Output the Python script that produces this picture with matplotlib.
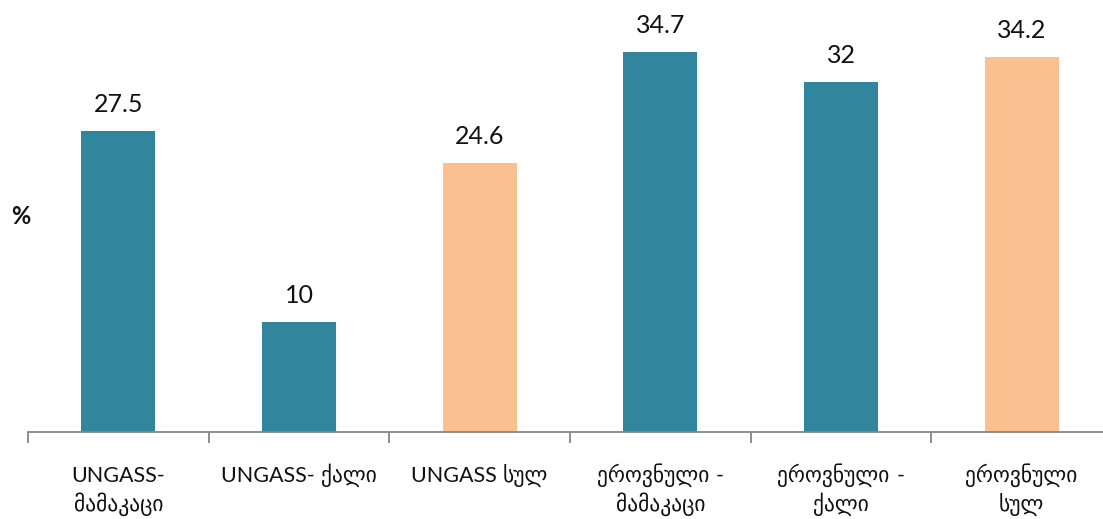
import matplotlib
matplotlib.use("Agg")
import matplotlib.pyplot as plt

categories = ["UNGASS-\nმამაკაცი", "UNGASS- ქალი", "UNGASS სულ",
              "ეროვნული -\nმამაკაცი", "ეროვნული -\nქალი", "ეროვნული\nსულ"]
values = [27.5, 10, 24.6, 34.7, 32, 34.2]
value_labels = ["27.5", "10", "24.6", "34.7", "32", "34.2"]
colors = ["#31859C", "#31859C", "#FAC090", "#31859C", "#31859C", "#FAC090"]

plt.rcParams["font.family"] = ["Lato", "DejaVu Sans"]

fig = plt.figure(figsize=(11.03, 5.19), dpi=100)
ax = fig.add_axes([28 / 1103, 87 / 519, 1084 / 1103, 432 / 519])

x = range(len(values))
bars = ax.bar(x, values, width=0.41, color=colors)
for b, lab in zip(bars, value_labels):
    ax.annotate(lab, (b.get_x() + b.get_width() / 2, b.get_height()),
                xytext=(0, 19), textcoords="offset pixels",
                ha="center", va="baseline", fontsize=18, color="#111111")

ax.set_xlim(-0.5, 5.5)
ax.set_ylim(0, 39.45)
ax.set_xticks([i - 0.5 for i in range(len(values) + 1)])
ax.set_xticklabels([])
ax.tick_params(axis="x", length=8, color="#868686", width=1.3)
ax.set_yticks([])
for s in ["top", "right", "left"]:
    ax.spines[s].set_visible(False)
ax.spines["bottom"].set_color("#868686")
ax.spines["bottom"].set_linewidth(1.3)


def split_runs(line):
    # split a line into Georgian / non-Georgian pieces
    runs = []
    for ch in line:
        geo = 0x10A0 <= ord(ch) <= 0x10FF
        if ch == " " and runs:
            geo = runs[-1][1]
        if runs and runs[-1][1] == geo:
            runs[-1][0] += ch
        else:
            runs.append([ch, geo])
    return runs


# category labels: Georgian pieces in DejaVu, Latin in Lato, lines centred
renderer = fig.canvas.get_renderer()
baselines = [-50, -79]
for i, label in enumerate(categories):
    for k, line in enumerate(label.split("\n")):
        pieces = []
        for seg, geo in split_runs(line):
            t = ax.annotate(seg, (i, 0), xycoords=ax.get_xaxis_transform(),
                            xytext=(0, baselines[k]), textcoords="offset pixels",
                            ha="left", va="baseline", color="#111111",
                            fontsize=15.5 if geo else 15.5,
                            family="DejaVu Sans" if geo else "Lato")
            w = t.get_window_extent(renderer).width
            pieces.append((t, w))
        total = sum(w for _, w in pieces)
        pos = -total / 2
        for t, w in pieces:
            t.xyann = (pos, baselines[k])
            pos += w

fig.text(21 / 1103, 1 - 217 / 519, "%", ha="center", va="center",
         fontsize=17, fontweight="bold", color="#111111")

fig.savefig("out.png", dpi=100)
